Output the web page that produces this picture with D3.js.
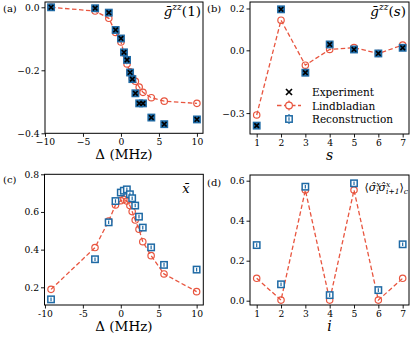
<!DOCTYPE html>
<html>
<head>
<meta charset="utf-8">
<script src="https://cdn.jsdelivr.net/npm/d3@7"></script>
<style>
	body { margin: 0; background: #fff; }
	.tick text { fill: #000; }
</style>
</head>
<body>
<svg id="chart" width="415" height="341"></svg>
<script>
// detuning values shared by panels (a) and (c)
const deltaVals = [-9.2, -3.4, -1.6, -0.7, 0.0, 0.4, 0.8, 1.2, 1.5, 1.9, 2.4, 2.9, 4.0, 5.7, 10.0];
const siteVals = [1, 2, 3, 4, 5, 6, 7];

// (a) g_zz(1) vs detuning
const aExperiment = [0.0, -0.003, -0.017, -0.072, -0.099, -0.143, -0.167, -0.207, -0.228, -0.273, -0.305, -0.305, -0.350, -0.371, -0.356];
const aReconstruction = aExperiment;
const aLindblad = [0.0, -0.012, -0.035, -0.08, -0.11, -0.145, -0.18, -0.205, -0.225, -0.235, -0.253, -0.27, -0.287, -0.298, -0.305];

// (b) g_zz(s) vs s
const bExperiment = [-0.36, 0.196, -0.107, 0.028, 0.004, -0.015, 0.012];
const bReconstruction = bExperiment;
const bLindblad = [-0.309, 0.144, -0.071, 0.004, 0.013, -0.015, 0.025];

// (c) mean x vs detuning
const cReconstruction = [0.136, 0.349, 0.545, 0.658, 0.703, 0.713, 0.72, 0.694, 0.673, 0.634, 0.575, 0.517, 0.412, 0.319, 0.294];
const cLindblad = [0.189, 0.411, 0.552, 0.637, 0.66, 0.667, 0.658, 0.634, 0.602, 0.557, 0.508, 0.442, 0.368, 0.271, 0.177];

// (d) connected xx correlator vs site
const dReconstruction = [0.278, 0.082, 0.570, 0.028, 0.587, 0.053, 0.282];
const dLindblad = [0.112, 0.003, 0.553, 0.003, 0.553, 0.003, 0.112];

const ticksA = { x: [-10, -5, 0, 5, 10], y: [0, -0.2, -0.4] };
const ticksB = { x: siteVals, y: [0.2, 0, -0.3] };
const ticksC = { x: [-10, -5, 0, 5, 10], y: [0.2, 0.4, 0.6, 0.8] };
const ticksD = { x: siteVals, y: [0, 0.2, 0.4, 0.6] };

const legendNames = ["Experiment", "Lindbladian", "Reconstruction"];

const BLUE = "#1f6aa5";
const RED = "#e8553f";
const FONT = "DejaVu Serif";

const svg = d3.select("#chart");

function panel(o) {
	const g = svg.append("g");
	const x = d3.scaleLinear().domain(o.xd).range([o.box[0], o.box[1]]);
	const y = d3.scaleLinear().domain(o.yd).range([o.box[3], o.box[2]]);

	g.append("g")
		.attr("transform", `translate(0,${o.box[3]})`)
		.call(d3.axisBottom(x).tickValues(o.ticks.x).tickFormat(o.xfmt).tickSize(3.5).tickPadding(2))
		.call(a => a.select(".domain").remove());
	g.append("g")
		.attr("transform", `translate(${o.box[0]},0)`)
		.call(d3.axisLeft(y).tickValues(o.ticks.y).tickFormat(d3.format(".1f")).tickSize(3.5).tickPadding(2))
		.call(a => a.select(".domain").remove());
	g.selectAll(".tick line").attr("stroke", "#000").attr("stroke-width", 0.9);
	g.selectAll("g").attr("font-family", FONT).attr("font-size", 9.2);

	// lindbladian dashed line with hollow circles
	const pts = o.xs.map((v, i) => [x(v), y(o.lind[i])]);
	g.append("path")
		.attr("d", d3.line()(pts))
		.attr("fill", "none")
		.attr("stroke", RED)
		.attr("stroke-width", 1.3)
		.attr("stroke-dasharray", "4.5,2.5");
	g.selectAll(".lind").data(pts).join("circle")
		.attr("cx", d => d[0]).attr("cy", d => d[1]).attr("r", 3.2)
		.attr("fill", "none").attr("stroke", RED).attr("stroke-width", 1.2);

	// reconstruction squares
	const rec = o.xs.map((v, i) => [x(v), y(o.rec[i])]);
	const sq = g.selectAll(".rec").data(rec).join("g")
		.attr("transform", d => `translate(${d[0]},${d[1]})`);
	sq.append("rect")
		.attr("x", -3.2).attr("y", -3.2).attr("width", 6.4).attr("height", 6.4)
		.attr("fill", o.exp ? BLUE : "#fff").attr("stroke", BLUE).attr("stroke-width", 1.5);
	sq.append("line")
		.attr("y1", -1.8).attr("y2", 1.8)
		.attr("stroke", BLUE).attr("stroke-width", 1.2);

	// experiment crosses
	if (o.exp) {
		const ex = o.xs.map((v, i) => [x(v), y(o.exp[i])]);
		g.selectAll(".exp").data(ex).join("path")
			.attr("d", d => `M${d[0] - 2.3},${d[1] - 2.3}L${d[0] + 2.3},${d[1] + 2.3}M${d[0] - 2.3},${d[1] + 2.3}L${d[0] + 2.3},${d[1] - 2.3}`)
			.attr("stroke", "#000").attr("stroke-width", 1.6);
	}

	g.append("rect")
		.attr("x", o.box[0]).attr("y", o.box[2])
		.attr("width", o.box[1] - o.box[0]).attr("height", o.box[3] - o.box[2])
		.attr("fill", "none").attr("stroke", "#000").attr("stroke-width", 1);

	// x label
	const cx = (o.box[0] + o.box[1]) / 2;
	g.append("text")
		.attr("x", cx).attr("y", o.box[3] + 25.5)
		.attr("text-anchor", "middle")
		.attr("font-family", FONT)
		.attr("font-size", o.xlabelItalic ? 14 : 13.5)
		.attr("font-style", o.xlabelItalic ? "italic" : null)
		.text(o.xlabel);

	return { g, x, y };
}

const pa = panel({
	box: [45, 203, 2, 133.3], xd: [-10.0, 10.8], yd: [-0.4, 0.0168],
	ticks: ticksA, xfmt: d3.format("d"), xs: deltaVals,
	exp: aExperiment, rec: aReconstruction, lind: aLindblad, xlabel: "Δ (MHz)"
});
const pb = panel({
	box: [250, 409, 2, 134], xd: [0.725, 7.26], yd: [-0.40, 0.231],
	ticks: ticksB, xfmt: d3.format("d"), xs: siteVals,
	exp: bExperiment, rec: bReconstruction, lind: bLindblad, xlabel: "s", xlabelItalic: true
});
const pc = panel({
	box: [44.5, 203.3, 174.3, 305], xd: [-10.06, 10.88], yd: [0.106, 0.8],
	ticks: ticksC, xfmt: d => String(d), xs: deltaVals,
	rec: cReconstruction, lind: cLindblad, xlabel: "Δ (MHz)"
});
const pd = panel({
	box: [250, 409, 175, 305], xd: [0.725, 7.26], yd: [-0.0215, 0.6285],
	ticks: ticksD, xfmt: d3.format("d"), xs: siteVals,
	rec: dReconstruction, lind: dLindblad, xlabel: "i", xlabelItalic: true
});

// panel letters
[["(a)", 3, 12], ["(b)", 207, 12], ["(c)", 3, 183], ["(d)", 207, 186]].forEach(([t, x, y]) => {
	svg.append("text").attr("x", x).attr("y", y).attr("font-family", FONT).attr("font-size", 10).text(t);
});

// panel titles
function gTitle(xr, y, arg) {
	const t = svg.append("text").attr("x", xr).attr("y", y)
		.attr("text-anchor", "end").attr("font-family", FONT).attr("font-size", 13.5);
	t.append("tspan").attr("font-style", "italic").text("ḡ");
	t.append("tspan").attr("font-style", "italic").attr("font-size", 9).attr("dy", -6).text("zz");
	t.append("tspan").attr("dy", 6).text("(");
	t.append("tspan").attr("font-style", arg === "s" ? "italic" : null).text(arg);
	t.append("tspan").text(")");
}
gTitle(201, 16, "1");
gTitle(406, 16, "s");

svg.append("text").attr("x", 186).attr("y", 193).attr("font-family", FONT)
	.attr("text-anchor", "middle").attr("font-size", 13).attr("font-style", "italic").text("x\u0304");

const dt = svg.append("text").attr("x", 408).attr("y", 191).attr("font-family", FONT)
	.attr("text-anchor", "end").attr("font-size", 11);
dt.append("tspan").text("⟨");
dt.append("tspan").attr("font-style", "italic").text("σ\u0302");
dt.append("tspan").attr("font-style", "italic").attr("font-size", 7.5).attr("dy", -4).text("x");
dt.append("tspan").attr("font-style", "italic").attr("font-size", 7.5).attr("dx", -4.3).attr("dy", 7).text("i");
dt.append("tspan").attr("font-style", "italic").attr("dy", -3).text("σ\u0302");
dt.append("tspan").attr("font-style", "italic").attr("font-size", 7.5).attr("dy", -4).text("x");
dt.append("tspan").attr("font-style", "italic").attr("font-size", 7.5).attr("dx", -4.3).attr("dy", 7).text("i+1");
dt.append("tspan").attr("dy", -3).text("⟩");
dt.append("tspan").attr("font-style", "italic").attr("font-size", 7.5).attr("dy", 3).text("c");

// legend in (b)
const legY = [92, 105.5, 119];
const lx = 289;
const leg = svg.append("g");
leg.append("path")
	.attr("d", `M${lx - 3},${legY[0] - 3}L${lx + 3},${legY[0] + 3}M${lx - 3},${legY[0] + 3}L${lx + 3},${legY[0] - 3}`)
	.attr("stroke", "#000").attr("stroke-width", 1.7);
leg.append("line").attr("x1", lx - 12).attr("x2", lx + 12).attr("y1", legY[1]).attr("y2", legY[1])
	.attr("stroke", RED).attr("stroke-width", 1.3).attr("stroke-dasharray", "4.5,2.5");
leg.append("line").attr("x1", lx).attr("x2", lx).attr("y1", legY[1] - 5).attr("y2", legY[1] + 5)
	.attr("stroke", RED).attr("stroke-width", 1.2);
leg.append("circle").attr("cx", lx).attr("cy", legY[1]).attr("r", 3.4)
	.attr("fill", "#fff").attr("stroke", RED).attr("stroke-width", 1.2);
leg.append("line").attr("x1", lx).attr("x2", lx).attr("y1", legY[2] - 5).attr("y2", legY[2] + 5)
	.attr("stroke", BLUE).attr("stroke-width", 1.2);
leg.append("rect").attr("x", lx - 3.2).attr("y", legY[2] - 3.2).attr("width", 6.4).attr("height", 6.4)
	.attr("fill", "#fff").attr("stroke", BLUE).attr("stroke-width", 1.5);
leg.append("line").attr("x1", lx).attr("x2", lx).attr("y1", legY[2] - 1.8).attr("y2", legY[2] + 1.8)
	.attr("stroke", BLUE).attr("stroke-width", 1.2);
legendNames.forEach((n, i) => {
	leg.append("text").attr("x", 312).attr("y", legY[i] + 4).attr("font-family", FONT).attr("font-size", 10.5).text(n);
});
</script>
</body>
</html>
